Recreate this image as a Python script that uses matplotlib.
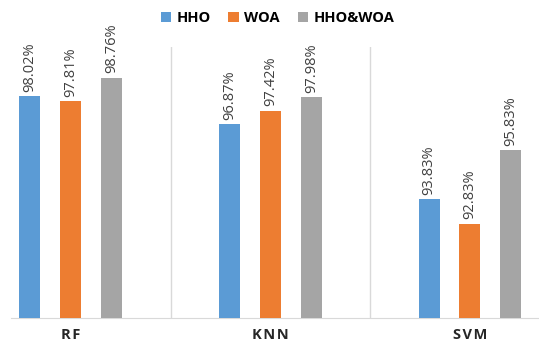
import numpy as np
import matplotlib
matplotlib.use("Agg")
import matplotlib.pyplot as plt

categories = ["RF", "KNN", "SVM"]
series_names = ["HHO", "WOA", "HHO&WOA"]
hho = [98.02, 96.87, 93.83]
woa = [97.81, 97.42, 92.83]
hho_woa = [98.76, 97.98, 95.83]
colors = ["#5B9BD5", "#ED7D31", "#A5A5A5"]

plt.rcParams['font.family'] = ['Open Sans', 'DejaVu Sans']

fig = plt.figure(figsize=(5.39, 3.45), dpi=100)
ax = fig.add_axes([11 / 539, 27 / 345, 1 - 11 / 539, 271 / 345])

x = np.arange(len(categories))
width = 0.105
offsets = [-0.205, 0.0, 0.205]
for vals, name, col, off in zip([hho, woa, hho_woa], series_names, colors, offsets):
    bars = ax.bar(x + off, vals, width, color=col, label=name, zorder=3)
    for b, v in zip(bars, vals):
        ax.text(b.get_x() + b.get_width() / 2, v + 0.17, f"{v:.2f}%",
                rotation=90, ha="center", va="bottom", fontsize=10.5, color="#404040")

# separators between groups
for sx in [0.5, 1.5]:
    ax.axvline(sx, color="#D9D9D9", lw=1, zorder=1)

ax.set_ylim(89, 100)
ax.set_xlim(-0.30, 2.346)
ax.set_yticks([])
ax.set_xticks(x)
ax.set_xticklabels(["\u200a".join(c) for c in categories], fontweight="bold",
                   fontsize=10.5, color="#262626")
ax.tick_params(axis="x", length=0, pad=7)
for s in ["top", "right", "left"]:
    ax.spines[s].set_visible(False)
ax.spines["bottom"].set_color("#D9D9D9")

fig.legend(loc="upper center", bbox_to_anchor=(0.515, 1.005), ncol=3, frameon=False,
           prop={"weight": "bold", "size": 10.5}, handlelength=0.7, handleheight=0.7,
           columnspacing=1.2, handletextpad=0.4)

fig.savefig("out.png", dpi=100)
